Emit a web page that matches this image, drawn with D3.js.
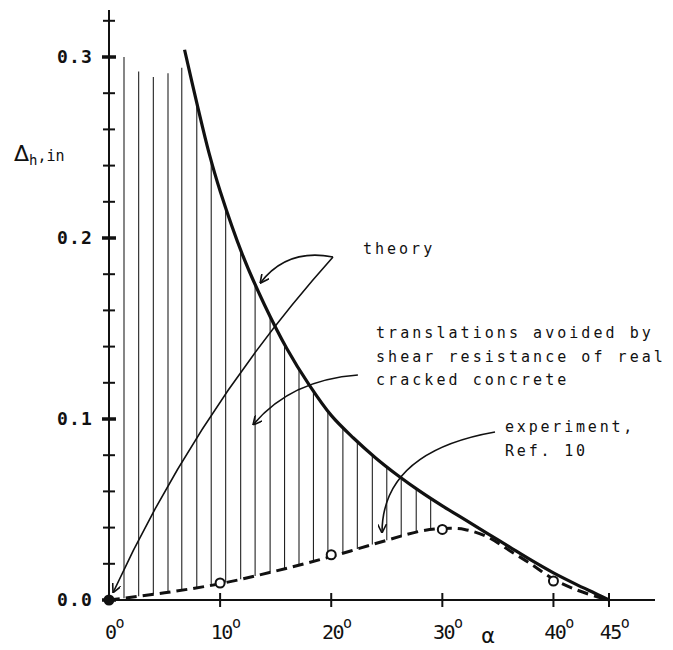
<!DOCTYPE html>
<html>
<head>
<meta charset="utf-8">
<script src="https://cdn.jsdelivr.net/npm/d3@7"></script>
<style>
  body { margin: 0; background: #fff; }
  svg { display: block; }
  text { font-family: "DejaVu Sans Mono", monospace; fill: #111; }
</style>
</head>
<body>
<svg id="chart" width="673" height="650"></svg>
<script>
// theory curve (alpha in degrees, Delta_h in inches)
var theoryAlpha = [6.8, 8, 9, 10, 12, 14, 16, 18, 20, 22, 24, 26, 28, 30, 32, 34, 36, 38, 40, 42, 44, 45];
var theoryDh    = [0.304, 0.272, 0.247, 0.226, 0.191, 0.163, 0.139, 0.119, 0.102, 0.0895, 0.0785, 0.0688, 0.060, 0.052, 0.0445, 0.037, 0.0295, 0.022, 0.015, 0.0088, 0.003, 0];

// experiment, Ref. 10 (dashed line)
var expAlpha = [0, 5, 10, 15, 20, 25, 28, 30, 32, 34, 36, 38, 40, 42, 44, 45];
var expDh    = [0, 0.004, 0.009, 0.016, 0.024, 0.033, 0.038, 0.0395, 0.039, 0.035, 0.0275, 0.0198, 0.0115, 0.0058, 0.0016, 0];

// measured points (open circles)
var pointAlpha = [10, 20, 30, 40];
var pointDh    = [0.0094, 0.025, 0.039, 0.0105];

// hatching: first lines stand left of the theory curve with their own tops
var hatchAlpha = [1.35, 2.67, 3.99, 5.31, 6.55, 7.9, 9.2, 10.5, 11.85, 13.15, 14.5, 15.8, 17.1, 18.4, 19.7, 21.05, 22.35, 23.7, 25.0, 26.3, 27.65, 28.95];
var hatchTop   = [0.300, 0.292, 0.289, 0.291, 0.294];

var yTicksMajor = [0, 0.1, 0.2, 0.3];
var yTicksMinor = [0.02, 0.04, 0.06, 0.08, 0.12, 0.14, 0.16, 0.18, 0.22, 0.24, 0.26, 0.28, 0.32];
var xTicks = [0, 10, 20, 30, 40, 45];
var yTickLabels = ["0.0", "0.1", "0.2", "0.3"];

var svg = d3.select("#chart");

var x = d3.scaleLinear().domain([0, 45]).range([109, 609]);
var y = d3.scaleLinear().domain([0, 0.3]).range([600, 57]);

//marker for the annotation arrows
svg.append("defs").append("marker")
	.attr("id", "head")
	.attr("viewBox", "0 0 10 10")
	.attr("refX", 10).attr("refY", 5)
	.attr("markerWidth", 9).attr("markerHeight", 9)
	.attr("markerUnits", "userSpaceOnUse")
	.attr("orient", "auto")
	.append("path")
	.attr("d", "M0,0 L10,5 L0,10")
	.attr("fill", "none")
	.attr("stroke", "#111")
	.attr("stroke-width", 1.8);

var hatchG = svg.append("g");

var line = d3.line().curve(d3.curveCatmullRom.alpha(0.5));

var theoryPath = svg.append("path")
	.attr("d", line(theoryAlpha.map(function (a, i) { return [x(a), y(theoryDh[i])]; })))
	.attr("fill", "none")
	.attr("stroke", "#111")
	.attr("stroke-width", 3.2);

var expPath = svg.append("path")
	.attr("d", line(expAlpha.map(function (a, i) { return [x(a), y(expDh[i])]; })))
	.attr("fill", "none")
	.attr("stroke", "#111")
	.attr("stroke-width", 3)
	.attr("stroke-dasharray", "11,6");

// find the y pixel of a path at a given x pixel
function yAt(path, px) {
	var node = path.node(), len = node.getTotalLength();
	var lo = 0, hi = len;
	for (var k = 0; k < 40; k++) {
		var mid = (lo + hi) / 2;
		if (node.getPointAtLength(mid).x < px) lo = mid; else hi = mid;
	}
	return node.getPointAtLength((lo + hi) / 2).y;
}

//hatching
hatchAlpha.forEach(function (a, i) {
	var px = x(a);
	var top = i < hatchTop.length ? y(hatchTop[i]) : yAt(theoryPath, px);
	var bot = yAt(expPath, px);
	hatchG.append("line")
		.attr("x1", px).attr("x2", px)
		.attr("y1", top).attr("y2", bot)
		.attr("stroke", "#222")
		.attr("stroke-width", 1.1);
});

// axes
svg.append("line")
	.attr("x1", x(0)).attr("x2", 655)
	.attr("y1", y(0)).attr("y2", y(0))
	.attr("stroke", "#111").attr("stroke-width", 2);
svg.append("line")
	.attr("x1", x(0)).attr("x2", x(0))
	.attr("y1", y(0)).attr("y2", 10)
	.attr("stroke", "#111").attr("stroke-width", 2);

yTicksMajor.forEach(function (v, i) {
	svg.append("line")
		.attr("x1", x(0) - 7).attr("x2", x(0) + 7)
		.attr("y1", y(v)).attr("y2", y(v))
		.attr("stroke", "#111").attr("stroke-width", 3.5);
	svg.append("text")
		.attr("x", 57).attr("y", y(v) + 6)
		.attr("font-size", 18)
		.attr("font-weight", "bold")
		.attr("letter-spacing", 1.2)
		.text(yTickLabels[i]);
});
yTicksMinor.forEach(function (v) {
	svg.append("line")
		.attr("x1", x(0) - 6).attr("x2", x(0) + 6)
		.attr("y1", y(v)).attr("y2", y(v))
		.attr("stroke", "#111").attr("stroke-width", 2);
});

xTicks.forEach(function (v) {
	if (v > 0) {
		svg.append("line")
			.attr("x1", x(v)).attr("x2", x(v))
			.attr("y1", y(0) - 7).attr("y2", y(0) + 7)
			.attr("stroke", "#111").attr("stroke-width", 2);
	}
	var t = svg.append("text")
		.attr("x", x(v) + 5).attr("y", 639)
		.attr("text-anchor", "middle")
		.attr("font-size", 20)
		.attr("letter-spacing", -1.5);
	t.append("tspan").text(v);
	t.append("tspan").attr("dy", -11).attr("font-size", 15).text("o");
});

// experiment points and origin dot
svg.selectAll("circle.pt")
	.data(pointAlpha)
	.enter().append("circle")
	.attr("class", "pt")
	.attr("cx", function (d) { return x(d); })
	.attr("cy", function (d, i) { return y(pointDh[i]); })
	.attr("r", 4.5)
	.attr("fill", "#fff")
	.attr("stroke", "#111")
	.attr("stroke-width", 2);

svg.append("circle")
	.attr("cx", x(0)).attr("cy", y(0)).attr("r", 5.5)
	.attr("fill", "#111");

// axis labels
var yl = svg.append("text").attr("x", 14).attr("y", 161).attr("font-size", 22);
yl.append("tspan").attr("font-family", "DejaVu Sans").text("\u0394");
yl.append("tspan").attr("font-size", 14).attr("dy", 4).text("h");
yl.append("tspan").attr("font-size", 15).attr("dy", -4).attr("letter-spacing", 0).text(",in");

svg.append("text")
	.attr("x", 488).attr("y", 643)
	.attr("text-anchor", "middle")
	.attr("font-size", 22)
	.attr("font-family", "DejaVu Sans")
	.text("\u03b1");

// annotations (positions in data units)
function arrow(p0, c, p1, head) {
	var p = d3.path();
	p.moveTo(x(p0[0]), y(p0[1]));
	p.quadraticCurveTo(x(c[0]), y(c[1]), x(p1[0]), y(p1[1]));
	var el = svg.append("path")
		.attr("d", p.toString())
		.attr("fill", "none")
		.attr("stroke", "#111")
		.attr("stroke-width", 1.6);
	if (head) el.attr("marker-end", "url(#head)");
}

var theoryVertex = [20.16, 0.1895];
arrow(theoryVertex, [16.0, 0.1945], [13.6, 0.175], true);
arrow(theoryVertex, [8.0, 0.106], [0.36, 0.004], true);
arrow([22.4, 0.1243], [16.3, 0.1215], [12.96, 0.0967], true);
arrow([34.74, 0.0928], [24.57, 0.0818], [24.57, 0.037], true);

function label(lines, px, py, spacing) {
	var t = svg.append("text")
		.attr("font-size", 15)
		.attr("letter-spacing", spacing);
	lines.forEach(function (s, i) {
		t.append("tspan").attr("x", px).attr("y", py + i * 23.5).text(s);
	});
}

label(["theory"], 363, 254, 3);
label(["translations avoided by", "shear resistance of real", "cracked concrete"], 376, 338, 3.05);
label(["experiment,", "Ref. 10"], 505, 432, 2.8);
</script>
</body>
</html>
